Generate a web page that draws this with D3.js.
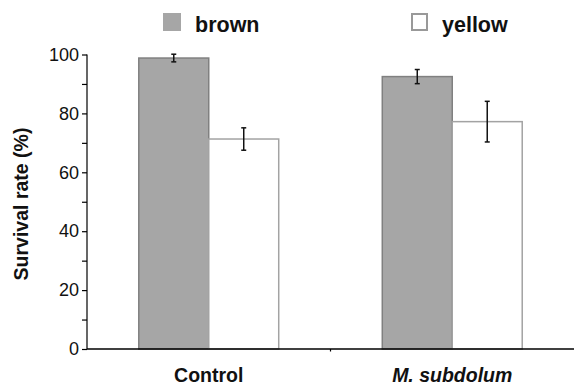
<!DOCTYPE html>
<html>
<head>
<meta charset="utf-8">
<script src="https://cdn.jsdelivr.net/npm/d3@7"></script>
<style>
  body { margin: 0; background: #fff; }
  svg { display: block; font-family: "Liberation Sans", Arial, Helvetica, sans-serif; }
</style>
</head>
<body>
<svg width="574" height="385"></svg>
<script>
// data
const groups = ['Control', 'M. subdolum'];
const seriesNames = ['brown', 'yellow'];
const brownVals = [98.8, 92.5];
const brownErr = [1.3, 2.4];
const yellowVals = [71.3, 77.2];
const yellowErr = [3.8, 6.9];
const yTicks = [0, 20, 40, 60, 80, 100];

const fills = { brown: '#a6a6a6', yellow: '#ffffff' };
const strokes = { brown: '#808080', yellow: '#a3a3a3' };

const svg = d3.select('svg');
const plotL = 87, plotR = 574, plotT = 54.5, plotB = 349;

const x0 = d3.scaleBand().domain(groups).range([plotL, plotR]).padding(0);
const x1 = d3.scaleBand().domain(seriesNames).range([0, x0.bandwidth()]).paddingInner(0).paddingOuter(0.74);
const y = d3.scaleLinear().domain([0, 100]).range([plotB, plotT]);

const rows = [];
groups.forEach((g, i) => {
    rows.push({ group: g, s: 'brown', v: brownVals[i], e: brownErr[i] });
    rows.push({ group: g, s: 'yellow', v: yellowVals[i], e: yellowErr[i] });
});

// bars
svg.append('g').selectAll('rect')
    .data(rows)
    .enter().append('rect')
    .attr('x', d => x0(d.group) + x1(d.s))
    .attr('y', d => y(d.v))
    .attr('width', x1.bandwidth())
    .attr('height', d => y(0) - y(d.v))
    .attr('fill', d => fills[d.s])
    .attr('stroke', d => strokes[d.s])
    .attr('stroke-width', 1.5);

// error bars
const eb = svg.append('g').attr('stroke', '#111').attr('stroke-width', 1.5);
rows.forEach(d => {
    const cx = x0(d.group) + x1(d.s) + x1.bandwidth() / 2;
    eb.append('line').attr('x1', cx).attr('x2', cx).attr('y1', y(d.v + d.e)).attr('y2', y(d.v - d.e));
    eb.append('line').attr('x1', cx - 2.5).attr('x2', cx + 2.5).attr('y1', y(d.v + d.e)).attr('y2', y(d.v + d.e));
    eb.append('line').attr('x1', cx - 2.5).attr('x2', cx + 2.5).attr('y1', y(d.v - d.e)).attr('y2', y(d.v - d.e));
});

// y axis
const yAxis = svg.append('g')
    .attr('transform', 'translate(' + plotL + ',0)')
    .call(d3.axisLeft(y).tickValues(d3.range(0, 101, 10)).tickSize(5).tickPadding(3)
        .tickFormat(d => yTicks.includes(d) ? d : ''));
yAxis.select('.domain').attr('stroke', '#000').attr('stroke-width', 1.2).attr('d', 'M0,' + plotT + 'V' + plotB);
yAxis.selectAll('.tick line').attr('stroke', '#000').attr('stroke-width', 1.2);
yAxis.selectAll('.tick text').attr('font-size', 18).attr('fill', '#111')
    .attr('font-family', '"Liberation Sans", Arial, sans-serif');

// x axis
svg.append('line')
    .attr('x1', plotL).attr('x2', plotR)
    .attr('y1', y(0)).attr('y2', y(0))
    .attr('stroke', '#000').attr('stroke-width', 1.5);
svg.append('line')
    .attr('x1', x0('M. subdolum')).attr('x2', x0('M. subdolum'))
    .attr('y1', y(0)).attr('y2', y(0) + 2.5)
    .attr('stroke', '#000').attr('stroke-width', 1.2);

svg.append('g').selectAll('text')
    .data(groups)
    .enter().append('text')
    .attr('x', d => x0(d) + x0.bandwidth() / 2)
    .attr('y', 382)
    .attr('text-anchor', 'middle')
    .attr('font-size', 19.5)
    .attr('font-weight', 'bold')
    .attr('font-style', (d, i) => i === 1 ? 'italic' : 'normal')
    .attr('fill', '#111')
    .text(d => d);

// y title
svg.append('text')
    .attr('transform', 'translate(28,204) rotate(-90)')
    .attr('text-anchor', 'middle')
    .attr('font-size', 19.5)
    .attr('font-weight', 'bold')
    .attr('fill', '#111')
    .text('Survival rate (%)');

// legend
const legendX = [163, 411];
const leg = svg.append('g').selectAll('g')
    .data(seriesNames)
    .enter().append('g')
    .attr('transform', (d, i) => 'translate(' + legendX[i] + ',13)');
leg.append('rect')
    .attr('x', (d, i) => i === 0 ? 0 : 1)
    .attr('y', (d, i) => i === 0 ? 0 : 1)
    .attr('width', (d, i) => i === 0 ? 18 : 15)
    .attr('height', (d, i) => i === 0 ? 18 : 16)
    .attr('fill', d => fills[d])
    .attr('stroke', d => d === 'brown' ? 'none' : '#999')
    .attr('stroke-width', 2);
leg.append('text')
    .attr('x', (d, i) => i === 0 ? 32 : 31)
    .attr('y', 18.5)
    .attr('font-size', 21.5)
    .attr('font-weight', 'bold')
    .attr('fill', '#111')
    .text(d => d);
</script>
</body>
</html>
